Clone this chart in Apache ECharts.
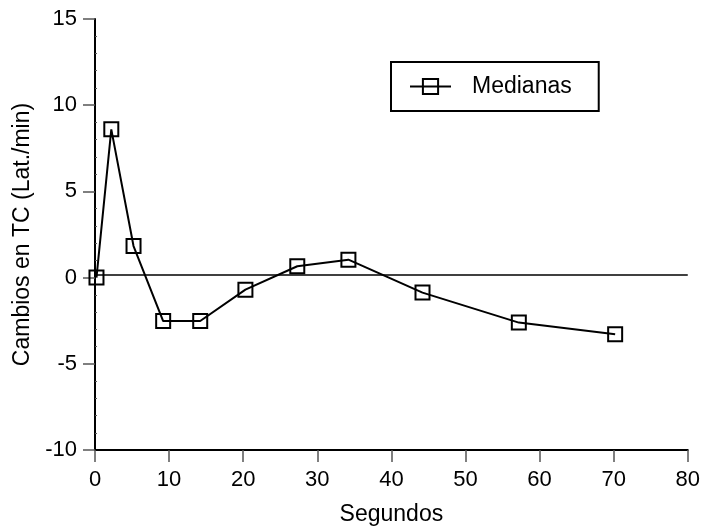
<!DOCTYPE html>
<html>
<head>
<meta charset="utf-8">
<script src="https://cdn.jsdelivr.net/npm/echarts@6/dist/echarts.min.js"></script>
<style>html,body{margin:0;padding:0;background:#fff;}#c{width:703px;height:531px;}</style>
</head>
<body>
<div id="c"></div>
<script>
const seconds = [0.2, 2.2, 5.2, 9.2, 14.2, 20.3, 27.3, 34.2, 44.2, 57.2, 70.2];
const medianas = [0, 8.6, 1.83, -2.52, -2.52, -0.7, 0.66, 1.04, -0.87, -2.61, -3.29];
const refLineValue = 0.17;
const seriesName = 'Medianas';
const xTitle = 'Segundos';
const yTitle = 'Cambios en TC (Lat./min)';

const font = 'Liberation Sans, Arial, sans-serif';
const fs = 22;
const chart = echarts.init(document.getElementById('c'), null, {renderer: 'canvas'});
chart.setOption({
  animation: false,
  backgroundColor: '#fff',
  grid: {left: 95, right: 14.3, top: 19, bottom: 80.7, containLabel: false},
  legend: {
    data: [seriesName],
    left: 391, top: 62,
    orient: 'horizontal',
    borderColor: '#000', borderWidth: 2,
    padding: [13, 27, 13, 18],
    itemWidth: 41, itemHeight: 19,
    textStyle: {fontFamily: font, fontSize: 23, color: '#000', padding: [0, 0, 0, 16]}
  },
  xAxis: {
    type: 'value', min: 0, max: 80, interval: 10,
    name: xTitle, nameLocation: 'middle', nameGap: 53,
    nameTextStyle: {fontFamily: font, fontSize: 23, color: '#000'},
    axisLine: {onZero: false, lineStyle: {color: '#000', width: 2}},
    axisTick: {length: 12, lineStyle: {color: '#555', width: 1.5}},
    axisLabel: {fontFamily: font, fontSize: fs, color: '#000', margin: 19},
    splitLine: {show: false}
  },
  yAxis: {
    type: 'value', min: -10, max: 15, interval: 5,
    name: yTitle, nameLocation: 'middle', nameGap: 61,
    nameTextStyle: {fontFamily: font, fontSize: 23, color: '#000'},
    axisLine: {onZero: false, lineStyle: {color: '#000', width: 2}},
    axisTick: {length: 12, lineStyle: {color: '#555', width: 1.5}},
    minorTick: {show: true, splitNumber: 5, length: -2, lineStyle: {color: '#555', width: 1}},
    axisLabel: {fontFamily: font, fontSize: fs, color: '#000', margin: 18},
    splitLine: {show: false}
  },
  series: [{
    name: seriesName,
    type: 'line',
    data: seconds.map((s, i) => [s, medianas[i]]),
    symbol: 'rect', symbolSize: 14,
    showAllSymbol: true,
    lineStyle: {color: '#000', width: 2},
    itemStyle: {color: 'transparent', borderColor: '#000', borderWidth: 2},
    markLine: {
      silent: true, symbol: 'none',
      label: {show: false},
      lineStyle: {color: '#000', width: 1.5, type: 'solid'},
      data: [{yAxis: refLineValue}]
    }
  }]
});
</script>
</body>
</html>
